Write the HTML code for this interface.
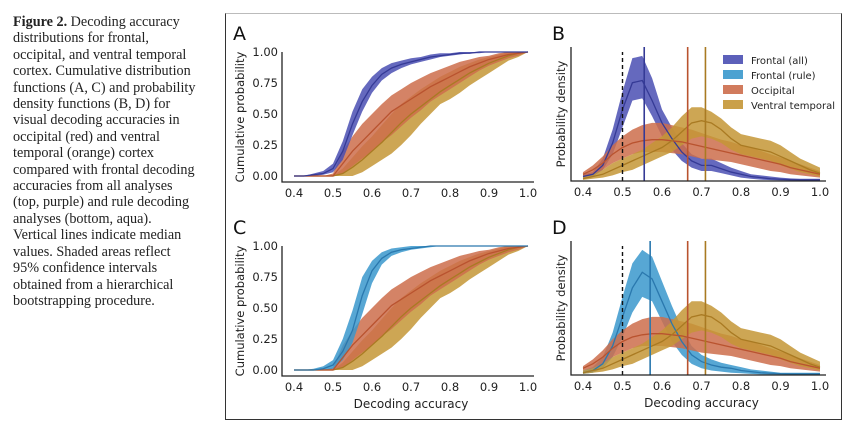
<!DOCTYPE html>
<html><head><meta charset="utf-8">
<style>
body{margin:0;width:852px;height:431px;background:#fff;overflow:hidden;position:relative;font-family:"Liberation Sans",sans-serif}
#caption{position:absolute;left:13px;top:14px;width:210px;font-family:"Liberation Serif",serif;font-size:14.2px;line-height:16.4px;color:#222;white-space:nowrap}
#frame{position:absolute;left:225px;top:13px;width:615px;height:405px;border:1px solid #333;border-top:1px solid #bbb}
svg{position:absolute;left:0;top:0}
</style></head><body>
<div id="caption"><b>Figure 2.</b> Decoding accuracy<br>distributions for frontal,<br>occipital, and ventral temporal<br>cortex. Cumulative distribution<br>functions (A, C) and probability<br>density functions (B, D) for<br>visual decoding accuracies in<br>occipital (red) and ventral<br>temporal (orange) cortex<br>compared with frontal decoding<br>accuracies from all analyses<br>(top, purple) and rule decoding<br>analyses (bottom, aqua).<br>Vertical lines indicate median<br>values. Shaded areas reflect<br>95% confidence intervals<br>obtained from a hierarchical<br>bootstrapping procedure.</div>
<div id="frame"></div>
<svg id="chart" width="852" height="431"></svg>
<script>
const xs=[0.4,0.425,0.45,0.475,0.5,0.525,0.55,0.575,0.6,0.625,0.65,0.675,0.7,0.725,0.75,0.775,0.8,0.825,0.85,0.875,0.9,0.925,0.95,0.975,1.0];
const xTicks=[0.4,0.5,0.6,0.7,0.8,0.9,1.0];
const yTicks=[0,0.25,0.5,0.75,1.0];
// CDFs
const cdfAllMean=[0,0,0.01,0.02,0.06,0.2,0.42,0.6,0.73,0.82,0.87,0.9,0.92,0.94,0.96,0.97,0.98,0.99,0.99,1,1,1,1,1,1];
const cdfAllLo=[0,0,0,0.01,0.03,0.13,0.33,0.52,0.67,0.77,0.83,0.87,0.9,0.92,0.94,0.96,0.97,0.98,0.99,0.99,1,1,1,1,1];
const cdfAllHi=[0,0,0.02,0.04,0.1,0.28,0.52,0.7,0.8,0.87,0.91,0.93,0.95,0.96,0.98,0.99,0.99,1,1,1,1,1,1,1,1];
const cdfRuleMean=[0,0,0,0.01,0.04,0.15,0.32,0.6,0.8,0.9,0.95,0.97,0.98,0.99,1,1,1,1,1,1,1,1,1,1,1];
const cdfRuleLo=[0,0,0,0,0.01,0.08,0.22,0.45,0.7,0.85,0.92,0.95,0.97,0.98,0.99,1,1,1,1,1,1,1,1,1,1];
const cdfRuleHi=[0,0,0.01,0.03,0.08,0.25,0.48,0.75,0.88,0.95,0.98,0.99,1,1,1,1,1,1,1,1,1,1,1,1,1];
const cdfOccMean=[0,0,0,0,0,0.1,0.2,0.28,0.36,0.44,0.52,0.57,0.62,0.67,0.72,0.76,0.8,0.84,0.88,0.91,0.94,0.96,0.98,0.99,1];
const cdfOccLo=[0,0,0,0,0,0.02,0.08,0.14,0.2,0.27,0.33,0.4,0.47,0.53,0.6,0.65,0.7,0.75,0.8,0.85,0.89,0.92,0.95,0.97,1];
const cdfOccHi=[0,0,0,0,0.02,0.2,0.32,0.42,0.5,0.58,0.65,0.7,0.75,0.79,0.83,0.86,0.89,0.92,0.94,0.96,0.97,0.99,1,1,1];
const cdfVtMean=[0,0,0,0,0,0.02,0.07,0.13,0.2,0.27,0.35,0.43,0.5,0.56,0.62,0.68,0.73,0.78,0.83,0.87,0.91,0.94,0.97,0.99,1];
const cdfVtLo=[0,0,0,0,0,0,0,0.03,0.08,0.13,0.18,0.25,0.33,0.42,0.5,0.58,0.62,0.67,0.73,0.78,0.83,0.88,0.93,0.96,1];
const cdfVtHi=[0,0,0,0,0,0.06,0.15,0.24,0.32,0.41,0.5,0.58,0.64,0.7,0.75,0.8,0.84,0.88,0.91,0.94,0.96,0.98,1,1,1];
// densities
const pdfAllMean=[0.2,0.3,0.7,1.7,3.2,4.4,4.5,3.6,2.6,1.9,1.3,0.9,0.7,0.7,0.55,0.4,0.3,0.2,0.15,0.1,0.08,0.06,0.05,0.05,0.05];
const pdfAllHi=[0.3,0.4,1.0,2.3,4.0,5.5,5.6,4.6,3.2,2.4,1.7,1.2,1.0,1.0,0.8,0.6,0.45,0.3,0.25,0.2,0.15,0.12,0.1,0.1,0.1];
const pdfAllLo=[0.1,0.2,0.5,1.2,2.4,3.6,3.7,2.9,2.0,1.4,0.9,0.6,0.45,0.45,0.35,0.25,0.15,0.1,0.06,0.04,0.03,0.02,0.02,0.02,0.02];
const pdfRuleMean=[0.1,0.2,0.5,1.3,2.6,3.9,4.6,4.3,3.3,2.3,1.5,0.9,0.6,0.45,0.35,0.3,0.2,0.15,0.1,0.08,0.06,0.05,0.05,0.05,0.05];
const pdfRuleHi=[0.2,0.35,0.8,1.9,3.5,5.0,5.6,5.3,4.2,3.1,2.1,1.3,0.9,0.7,0.55,0.45,0.35,0.25,0.2,0.15,0.1,0.1,0.1,0.1,0.1];
const pdfRuleLo=[0.05,0.1,0.3,0.8,1.7,2.8,3.5,3.3,2.4,1.5,0.9,0.5,0.3,0.2,0.15,0.1,0.08,0.05,0.03,0.02,0.02,0.02,0.02,0.02,0.02];
const pdfOccMean=[0.3,0.5,0.8,1.2,1.5,1.7,1.8,1.85,1.85,1.8,1.75,1.65,1.55,1.45,1.35,1.25,1.15,1.05,0.95,0.85,0.75,0.6,0.5,0.4,0.3];
const pdfOccHi=[0.4,0.7,1.1,1.6,2.0,2.3,2.5,2.6,2.6,2.5,2.4,2.3,2.15,2.0,1.85,1.75,1.6,1.5,1.35,1.2,1.05,0.9,0.75,0.6,0.45];
const pdfOccLo=[0.2,0.3,0.5,0.8,1.0,1.2,1.3,1.3,1.3,1.25,1.2,1.1,1.0,0.95,0.9,0.85,0.75,0.65,0.55,0.45,0.4,0.3,0.25,0.2,0.15];
const pdfVtMean=[0.1,0.2,0.3,0.5,0.7,0.9,1.1,1.3,1.5,1.8,2.2,2.6,2.7,2.6,2.3,1.9,1.6,1.5,1.4,1.3,1.1,0.9,0.7,0.5,0.35];
const pdfVtHi=[0.2,0.3,0.5,0.8,1.0,1.2,1.4,1.7,2.0,2.4,2.9,3.3,3.3,3.1,2.8,2.4,2.1,2.0,1.9,1.8,1.6,1.3,1.0,0.8,0.6];
const pdfVtLo=[0.05,0.1,0.15,0.25,0.4,0.5,0.7,0.9,1.1,1.3,1.6,1.9,2.0,1.9,1.7,1.4,1.2,1.1,1.0,0.9,0.7,0.55,0.4,0.3,0.2];
const mediansTop=[0.555,0.665,0.71];
const mediansBottom=[0.57,0.665,0.71];
const chanceLevel=0.5;
const legendLabels=["Frontal (all)","Frontal (rule)","Occipital","Ventral temporal"];

const C={all:["#4a4fb3","#353a96"],rule:["#3a98cc","#2a78ae"],occ:["#cc6d4b","#b9532f"],vt:["#c49636","#a97a22"]};
const svg=document.getElementById('chart');
const NS="http://www.w3.org/2000/svg";
function mk(tag,attrs,parent){const e=document.createElementNS(NS,tag);for(const k in attrs)e.setAttribute(k,attrs[k]);(parent||svg).appendChild(e);return e;}

function panel(o){
  const g=mk('g',{});
  
  
  const xS=v=>o.x0+(v-0.4)/0.6*(o.x1-o.x0);
  const yS=v=>o.yb-(v/o.ymax)*(o.yb-o.yt);
  const band=(lo,hi,col,nm)=>{
    let d='M'+xs.map((x,i)=>xS(x)+','+yS(hi[i])).join(' L');
    d+=' L'+xs.map((x,i)=>xS(x)+','+yS(lo[i])).reverse().join(' L')+' Z';
    const p=mk('path',{d:d,fill:col,'fill-opacity':0.85,stroke:'none'},g);
    
    
  };
  const line=(m,col,nm)=>{
    const p=mk('polyline',{points:xs.map((x,i)=>xS(x)+','+yS(m[i])).join(' '),fill:'none',stroke:col,'stroke-width':1.3},g);
    
    
  };
  o.series.forEach(s=>band(s.lo,s.hi,s.c[0],s.n));
  o.series.forEach(s=>line(s.m,s.c[1],s.n));
  if(o.medians){
    const dl=mk('line',{x1:xS(chanceLevel),x2:xS(chanceLevel),y1:o.yb,y2:o.yt+5,stroke:'#111','stroke-width':1.4,'stroke-dasharray':'4,3'},g);
    
    
    o.medians.forEach((m,i)=>{
      const l=mk('line',{x1:xS(m),x2:xS(m),y1:o.yb,y2:o.yt,stroke:o.series[i].c[1],'stroke-width':1.6},g);
      
      
    });
  }
  const ax=mk('path',{d:`M${o.ax},${o.yt} L${o.ax},${o.axb} L${o.x1+6},${o.axb}`,fill:'none',stroke:'#222','stroke-width':1.3},g);
  
  
  xTicks.forEach(t=>{
    const tx=mk('text',{x:xS(t),y:o.axb+15,'text-anchor':'middle','font-size':11.5,'font-family':'DejaVu Sans, sans-serif',fill:'#222'},g);
    tx.textContent=t.toFixed(1);
    
    
  });
  if(o.cdf){
    yTicks.forEach(t=>{
      const tx=mk('text',{x:o.ax-4,y:yS(t)+4,'text-anchor':'end','font-size':11.5,'font-family':'DejaVu Sans, sans-serif',fill:'#222'},g);
      tx.textContent=t.toFixed(2);
      
      
    });
  }
  const yl=mk('text',{x:0,y:0,transform:`translate(${o.ylx},${(o.yt+o.axb)/2}) rotate(-90)`,'text-anchor':'middle','font-size':11.5,'font-family':'DejaVu Sans, sans-serif',fill:'#222'},g);
  yl.textContent=o.cdf?'Cumulative probability':'Probability density';
  
  
  if(o.xlabel){
    const xl=mk('text',{x:(o.x0+o.x1)/2,y:o.axb+32,'text-anchor':'middle','font-size':12,'font-family':'DejaVu Sans, sans-serif',fill:'#222'},g);
    xl.textContent='Decoding accuracy';
    
    
  }
  const lt=mk('text',{x:o.lx,y:o.ly,'font-size':19,'font-family':'DejaVu Sans, sans-serif',fill:'#111'},g);
  lt.textContent=o.letter;
  
  
}
const S=(m,lo,hi,c,n)=>({m,lo,hi,c,n});
panel({name:'panel-a',letter:'A',lx:233,ly:40,cdf:true,x0:294,x1:528,yt:52,yb:176,ymax:1,ax:282,axb:182,ylx:244,
  series:[S(cdfVtMean,cdfVtLo,cdfVtHi,C.vt,'ventral'),S(cdfOccMean,cdfOccLo,cdfOccHi,C.occ,'occipital'),S(cdfAllMean,cdfAllLo,cdfAllHi,C.all,'frontal-all')]});
panel({name:'panel-c',letter:'C',lx:233,ly:234,cdf:true,x0:294,x1:528,yt:246,yb:370,ymax:1,ax:282,axb:376,ylx:244,xlabel:true,
  series:[S(cdfVtMean,cdfVtLo,cdfVtHi,C.vt,'ventral'),S(cdfOccMean,cdfOccLo,cdfOccHi,C.occ,'occipital'),S(cdfRuleMean,cdfRuleLo,cdfRuleHi,C.rule,'frontal-rule')]});
panel({name:'panel-b',letter:'B',lx:552,ly:40,cdf:false,x0:583,x1:820,yt:47,yb:181,ymax:6,ax:571,axb:181,ylx:565,
  medians:mediansTop,
  series:[S(pdfAllMean,pdfAllLo,pdfAllHi,C.all,'frontal-all'),S(pdfOccMean,pdfOccLo,pdfOccHi,C.occ,'occipital'),S(pdfVtMean,pdfVtLo,pdfVtHi,C.vt,'ventral')]});
panel({name:'panel-d',letter:'D',lx:552,ly:234,cdf:false,x0:583,x1:820,yt:241,yb:375,ymax:6,ax:571,axb:375,ylx:565,xlabel:true,
  medians:mediansBottom,
  series:[S(pdfRuleMean,pdfRuleLo,pdfRuleHi,C.rule,'frontal-rule'),S(pdfOccMean,pdfOccLo,pdfOccHi,C.occ,'occipital'),S(pdfVtMean,pdfVtLo,pdfVtHi,C.vt,'ventral')]});
const legCols=[C.all[0],C.rule[0],C.occ[0],C.vt[0]];
legendLabels.forEach((lab,i)=>{
  const g=mk('g',{});
  
  
  mk('rect',{x:723,y:55+i*15,width:20,height:9,fill:legCols[i],'fill-opacity':0.9},g);
  const t=mk('text',{x:751,y:64+i*15,'font-size':10,'font-family':'DejaVu Sans, sans-serif',fill:'#222'},g);
  t.textContent=lab;
});
</script>
</body></html>
